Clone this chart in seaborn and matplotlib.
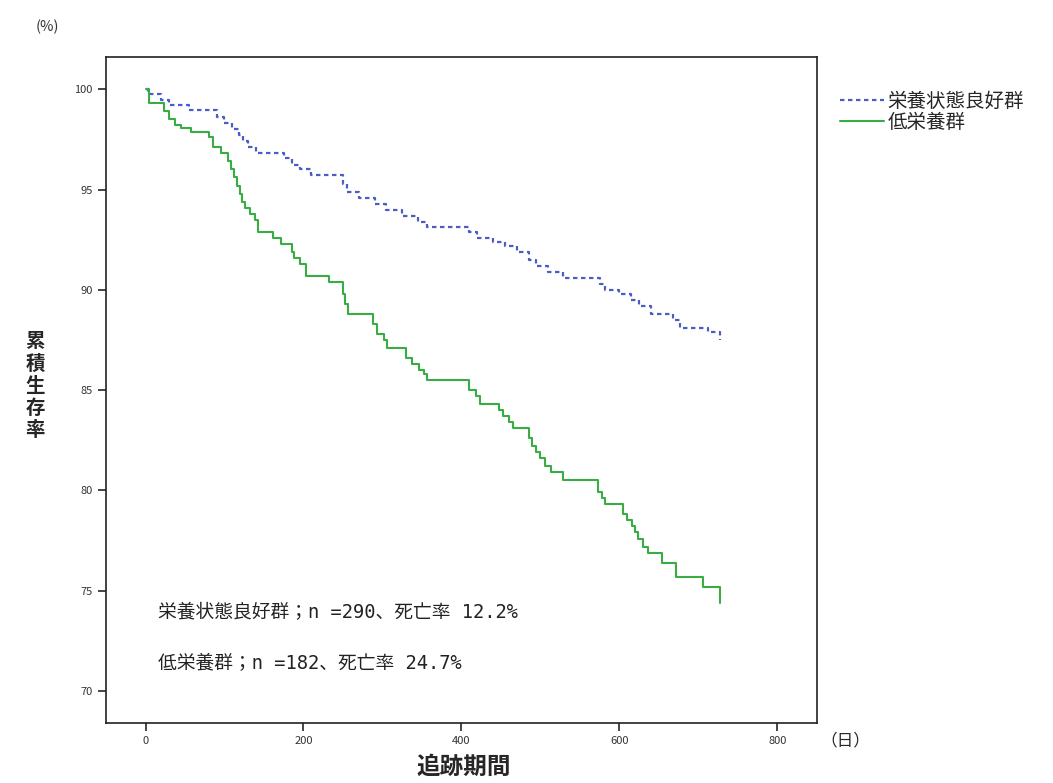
"""Kaplan-Meier style survival curves: good nutrition vs. malnutrition."""

import pandas as pd
import matplotlib
matplotlib.use("Agg")
import matplotlib.pyplot as plt
import seaborn as sns

# --- data (days, cumulative survival %) ---
good_days = [0, 3, 20, 30, 55, 90, 100, 110, 118, 124, 130, 140, 175, 185, 195,
             210, 250, 255, 270, 290, 305, 325, 345, 357, 410, 420, 440, 455,
             470, 485, 495, 510, 528, 575, 582, 600, 615, 625, 640, 668, 677,
             712, 728]
good_surv = [100, 99.75, 99.45, 99.2, 98.95, 98.6, 98.3, 98.0, 97.7, 97.4, 97.1,
             96.8, 96.55, 96.2, 96.0, 95.7, 95.3, 94.9, 94.6, 94.3, 94.0, 93.7,
             93.4, 93.15, 92.9, 92.6, 92.4, 92.2, 91.9, 91.5, 91.2, 90.9, 90.6,
             90.3, 90.0, 89.8, 89.5, 89.2, 88.8, 88.5, 88.1, 87.9, 87.5]

low_days = [0, 4, 23, 30, 37, 45, 57, 80, 85, 95, 104, 108, 112, 116, 119, 122,
            126, 132, 138, 143, 162, 172, 185, 188, 196, 203, 232, 250, 252, 256,
            288, 293, 302, 306, 330, 338, 346, 352, 357, 410, 418, 424, 447, 453,
            460, 465, 485, 489, 494, 500, 506, 513, 529, 573, 578, 582, 605, 610,
            616, 620, 624, 630, 636, 654, 672, 706, 728]
low_surv = [100, 99.3, 98.9, 98.5, 98.2, 98.05, 97.85, 97.6, 97.1, 96.8, 96.4,
            96.0, 95.6, 95.2, 94.8, 94.4, 94.1, 93.8, 93.5, 92.9, 92.6, 92.3,
            91.9, 91.6, 91.3, 90.7, 90.4, 89.8, 89.3, 88.8, 88.3, 87.8, 87.5,
            87.1, 86.6, 86.3, 86.0, 85.8, 85.5, 85.0, 84.7, 84.3, 84.0, 83.7,
            83.4, 83.1, 82.6, 82.2, 81.9, 81.6, 81.2, 80.9, 80.5, 79.9, 79.6,
            79.3, 78.8, 78.5, 78.2, 77.9, 77.6, 77.2, 76.9, 76.4, 75.7, 75.2,
            74.4]

group_names = ["栄養状態良好群", "低栄養群"]
notes = ["栄養状態良好群；n =290、死亡率 12.2%", "低栄養群；n =182、死亡率 24.7%"]

sns.set_style("white")
plt.rcParams["font.family"] = ["Noto Sans CJK JP", "DejaVu Sans"]
mono_cjk = ["DejaVu Sans Mono", "Noto Sans CJK JP"]

fig = plt.figure(figsize=(10.53, 7.83), dpi=100)
ax = fig.add_axes([0.1007, 0.0766, 0.675, 0.8504])

good = pd.DataFrame({"day": good_days, "surv": good_surv})
low = pd.DataFrame({"day": low_days, "surv": low_surv})

sns.lineplot(data=good, x="day", y="surv", ax=ax, estimator=None,
             drawstyle="steps-post", color="#4b5cc4", linewidth=1.6,
             linestyle=(0, (2.0, 1.6)), label=group_names[0])
sns.lineplot(data=low, x="day", y="surv", ax=ax, estimator=None,
             drawstyle="steps-post", color="#3aac45", linewidth=1.5,
             label=group_names[1])

ax.set_xlim(-50, 850)
ax.set_ylim(68.4, 101.6)
ax.set_xticks([0, 200, 400, 600, 800])
ax.set_yticks([70, 75, 80, 85, 90, 95, 100])
ax.tick_params(direction="out", length=6, width=1.2, labelsize=8,
               labelcolor="#333333", left=True, bottom=True)
for s in ax.spines.values():
    s.set_color("#222222")
    s.set_linewidth(1.2)
ax.set_xlabel("")
ax.set_ylabel("")

# notes inside the plot
ax.text(16, 73.9, notes[0], fontsize=13.5, va="center", ha="left",
        family=mono_cjk, color="#222222")
ax.text(16, 71.35, notes[1], fontsize=13.5, va="center", ha="left",
        family=mono_cjk, color="#222222")

# axis captions placed like the original
fig.text(47 / 1053, 1 - 27 / 783, "(%)", fontsize=10.5, ha="center", va="center",
         color="#333333")
fig.text(35 / 1053, 1 - 386 / 783, "累\n積\n生\n存\n率", fontsize=14,
         fontweight="bold", ha="center", va="center", linespacing=1.2)
fig.text(464 / 1053, 1 - 767 / 783, "追跡期間", fontsize=17, fontweight="bold",
         ha="center", va="center")
fig.text(845 / 1053, 1 - 741 / 783, "（日）", fontsize=12, ha="center",
         va="center")

ax.legend(loc="upper left", bbox_to_anchor=(1.032, 0.949), frameon=False,
          fontsize=14, handlelength=2.3, handletextpad=0.15, labelspacing=0.0,
          borderaxespad=0, borderpad=0)

fig.savefig("out.png", dpi=100)
plt.close(fig)
print("Saved out.png")
